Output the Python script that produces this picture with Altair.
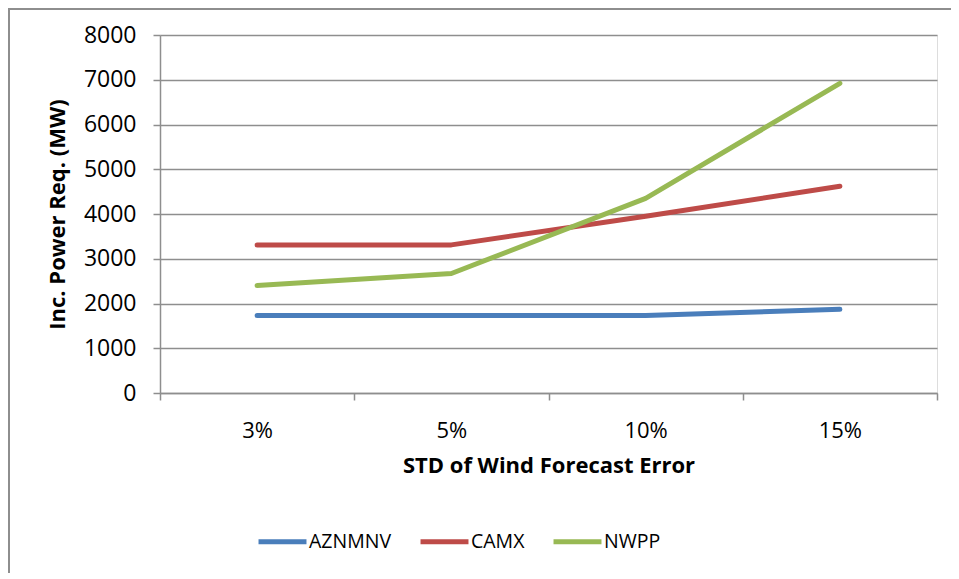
import altair as alt
import pandas as pd

categories = ["3%", "5%", "10%", "15%"]
series_names = ["AZNMNV", "CAMX", "NWPP"]
aznmnv = [1730, 1730, 1730, 1870]
camx = [3310, 3310, 3950, 4620]
nwpp = [2400, 2670, 4350, 6920]
colors = ["#4a7ebb", "#be4b48", "#98b954"]
y_ticks = [0, 1000, 2000, 3000, 4000, 5000, 6000, 7000, 8000]

rows = []
for name, vals in zip(series_names, [aznmnv, camx, nwpp]):
    for c, v in zip(categories, vals):
        rows.append({"cat": c, "value": v, "series": name})
df = pd.DataFrame(rows)

FONT = "Open Sans"
W, H = 777, 358
GRID = "#8e8e8e"

lines = alt.Chart(df).mark_line(strokeWidth=5, strokeCap="round", strokeJoin="round").encode(
    x=alt.X("cat:N", sort=categories,
            scale=alt.Scale(paddingInner=0, paddingOuter=0),
            axis=alt.Axis(title="STD of Wind Forecast Error", labelAngle=0,
                          tickBand="extent", grid=False, domainColor=GRID,
                          tickColor=GRID, tickSize=7, domainWidth=1.5, tickWidth=1.5,
                          labelFont=FONT, labelFontSize=22, labelColor="#000",
                          labelPadding=20, titleFont=FONT, titleFontSize=22,
                          titleFontWeight="bold", titleColor="#000", titlePadding=14)),
    y=alt.Y("value:Q", scale=alt.Scale(domain=[0, 8000], nice=False),
            axis=alt.Axis(title="Inc. Power Req. (MW)", values=y_ticks, format="d",
                          grid=True, gridColor=GRID, gridWidth=1.5,
                          domainColor=GRID, tickColor=GRID, tickSize=7,
                          domainWidth=1.5, tickWidth=1.5,
                          labelFont=FONT, labelFontSize=23, labelColor="#000",
                          labelPadding=17, titleFont=FONT, titleFontSize=22,
                          titleFontWeight="bold", titleColor="#000", titlePadding=14)),
    color=alt.Color("series:N", sort=series_names,
                    scale=alt.Scale(domain=series_names, range=colors),
                    legend=alt.Legend(title=None, orient="none", direction="horizontal",
                                      legendX=96, legendY=480,
                                      symbolType="stroke", symbolSize=2300,
                                      symbolStrokeWidth=5, labelFont=FONT,
                                      labelFontSize=19.5, labelColor="#000",
                                      labelOffset=0, columnPadding=18)),
)

frame_left = alt.Chart(alt.Data(values=[{}])).mark_rule(color=GRID, strokeWidth=2).encode(
    x=alt.value(-151), y=alt.value(-27), y2=alt.value(H + 200))
frame_top = alt.Chart(alt.Data(values=[{}])).mark_rule(color=GRID, strokeWidth=2).encode(
    x=alt.value(-152), x2=alt.value(W + 40), y=alt.value(-26))

chart = alt.layer(frame_left, frame_top, lines).properties(
    width=W, height=H,
    autosize=alt.AutoSizeParams(type="none"),
    padding={"left": 152, "top": 27, "right": 14, "bottom": 180},
).configure_view(stroke=None).configure(background="white")

chart.save("out.html", embed_options={"renderer": "svg", "actions": False})
